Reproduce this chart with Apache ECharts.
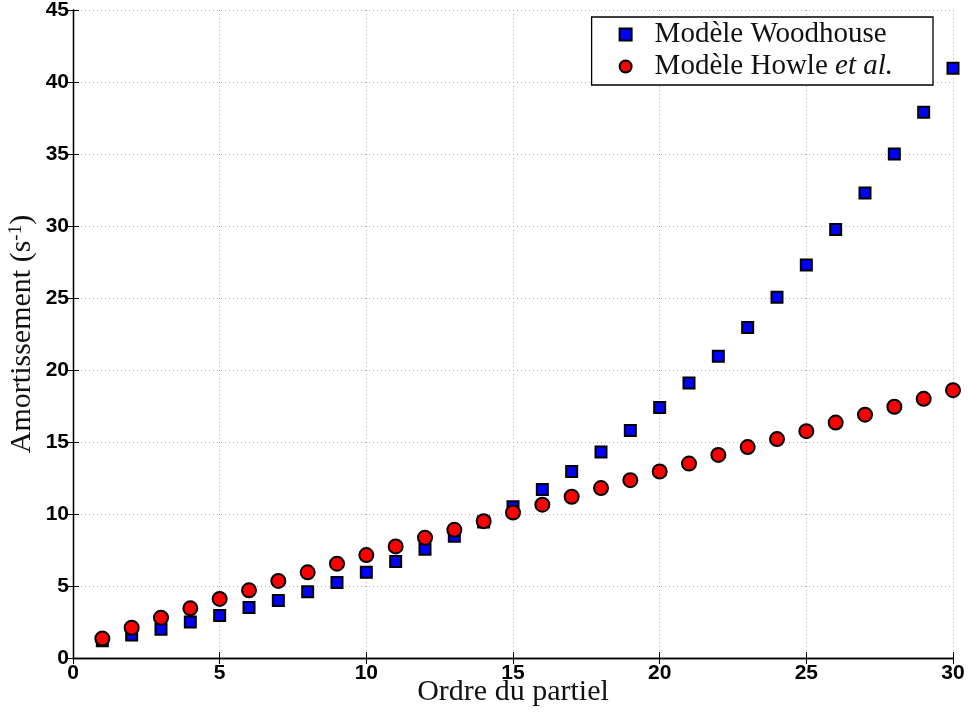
<!DOCTYPE html>
<html><head><meta charset="utf-8">
<script src="https://cdn.jsdelivr.net/npm/echarts@6/dist/echarts.min.js"></script>
<style>html,body{margin:0;padding:0;background:#fff}#c{width:968px;height:715px}</style>
</head><body><div id="c"></div>
<script>
const orders = [1,2,3,4,5,6,7,8,9,10,11,12,13,14,15,16,17,18,19,20,21,22,23,24,25,26,27,28,29,30];
const woodhouse = [1.2,1.6,2.0,2.5,2.95,3.5,4.0,4.6,5.25,5.95,6.7,7.55,8.45,9.45,10.5,11.7,12.95,14.3,15.8,17.4,19.1,20.95,22.95,25.05,27.3,29.75,32.3,35.0,37.9,40.95];
const howle = [1.35,2.1,2.8,3.45,4.1,4.7,5.35,5.95,6.55,7.15,7.75,8.35,8.9,9.5,10.1,10.65,11.2,11.8,12.35,12.95,13.5,14.1,14.65,15.2,15.75,16.35,16.9,17.45,18.0,18.6];
const xTicks = [0,5,10,15,20,25,30];
const yTicks = [0,5,10,15,20,25,30,35,40,45];

const chart = echarts.init(document.getElementById('c'));
const serif = 'Liberation Serif';
const tickFont = {fontFamily:'Liberation Sans', fontWeight:'bold', fontSize:21, color:'#000'};
const baseAxis = {
  axisLine:{show:true, lineStyle:{color:'#000', width:1.3}},
  axisTick:{show:true, inside:true, length:6, lineStyle:{color:'#000'}},
};
const gridLine = {show:true, lineStyle:{color:'#aaa', type:[1,3], width:1}};
chart.setOption({
  animation:false,
  grid:{left:73, right:15, top:10, bottom:57, containLabel:false, outerBoundsMode:'none'},
  legend:{
    right:35, top:17, orient:'vertical', itemGap:3,
    backgroundColor:'#fff', borderColor:'#000', borderWidth:1.3, borderRadius:0,
    padding:[3,40,4,27], itemWidth:12, itemHeight:12,
    textStyle:{fontFamily:serif, fontSize:29, color:'#111', padding:[0,0,0,18],
      rich:{i:{fontFamily:serif, fontStyle:'italic', fontSize:29, color:'#111'}}},
    formatter: n => n === 'Howle' ? 'Modèle Howle {i|et al.}' : 'Modèle Woodhouse',
    data:['Woodhouse','Howle']
  },
  xAxis:[{
    type:'value', min:0, max:30, interval:5,
    name:'Ordre du partiel', nameLocation:'middle', nameGap:19, nameMoveOverlap:false,
    nameTextStyle:{fontFamily:serif, fontSize:30, color:'#111'},
    axisLabel:Object.assign({margin:5, formatter:v=>xTicks.includes(v)?String(v):''}, tickFont),
    splitLine:gridLine,
    ...baseAxis
  },{
    type:'value', min:0, max:30, interval:5, position:'top',
    axisLabel:{show:false}, splitLine:{show:false}, ...baseAxis
  }],
  yAxis:[{
    type:'value', min:0, max:45, interval:5,
    name:'Amortissement (s{sup|-1})', nameLocation:'middle', nameGap:35, nameRotate:90, nameMoveOverlap:false,
    nameTextStyle:{fontFamily:serif, fontSize:30, color:'#111', rich:{sup:{fontFamily:serif, fontSize:19, color:'#111', verticalAlign:'top', padding:[0,0,12,0]}}},
    axisLabel:Object.assign({margin:4, formatter:v=>yTicks.includes(v)?String(v):''}, tickFont),
    splitLine:gridLine,
    ...baseAxis
  },{
    type:'value', min:0, max:45, interval:5, position:'right',
    axisLabel:{show:false}, splitLine:{show:false}, ...baseAxis
  }],
  series:[{
    name:'Woodhouse', type:'scatter', symbol:'rect', symbolSize:11, clip:false,
    itemStyle:{color:'#0000ff', borderColor:'#000', borderWidth:2, opacity:1},
    data: orders.map((o,i)=>[o, woodhouse[i]]), z:2
  },{
    name:'Howle', type:'scatter', symbol:'circle', symbolSize:14, clip:false,
    itemStyle:{color:'#ff0000', borderColor:'#000', borderWidth:2, opacity:1},
    data: orders.map((o,i)=>[o, howle[i]]), z:3
  }]
});
</script></body></html>
